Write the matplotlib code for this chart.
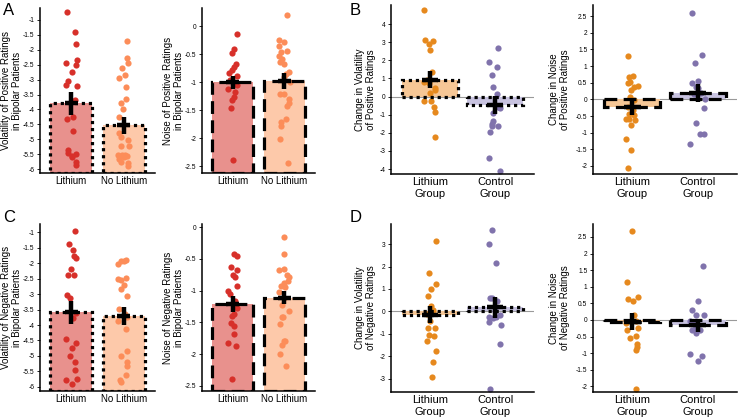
import matplotlib
matplotlib.use("Agg")
import matplotlib.pyplot as plt
import numpy as np

plt.rcParams["font.family"] = ["Liberation Sans", "DejaVu Sans"]

# ---- data (y value, x jitter) ----
a_vol_li = [(-0.74, -0.08), (-1.40, 0.06), (-1.79, 0.08), (-2.45, -0.10), (-2.35, 0.10), (-2.52, 0.08),
            (-2.73, 0.01), (-3.04, -0.07), (-3.18, -0.10), (-3.23, 0.10), (-3.68, 0.06), (-4.26, 0.04),
            (-4.32, -0.08), (-4.73, 0.03), (-5.37, -0.06), (-5.46, -0.06), (-5.55, 0.01), (-5.49, 0.08),
            (-5.60, 0.01), (-5.77, 0.08), (-5.87, 0.09)]
a_vol_noli = [(-1.70, 0.06), (-2.29, 0.06), (-2.45, 0.08), (-2.62, -0.03), (-2.83, 0.03), (-2.93, -0.08),
              (-3.26, 0.04), (-3.65, 0.05), (-3.79, -0.06), (-3.99, -0.02), (-4.26, -0.08), (-4.79, -0.08),
              (-4.94, -0.05), (-5.01, 0.09), (-5.24, -0.06), (-5.24, 0.10), (-5.52, -0.04), (-5.54, 0.03),
              (-5.59, 0.00), (-5.53, -0.10), (-5.55, 0.06), (-5.77, -0.06), (-5.65, -0.08), (-5.88, 0.08),
              (-5.79, 0.09)]
a_noise_li = [(-0.14, 0.09), (-0.41, 0.03), (-0.48, -0.01), (-0.68, 0.06), (-0.73, 0.03), (-0.78, -0.02),
              (-0.83, -0.08), (-0.89, 0.09), (-0.96, -0.06), (-1.00, 0.03), (-1.05, 0.08), (-1.11, -0.10),
              (-1.18, 0.04), (-1.27, 0.03), (-1.32, -0.01), (-1.46, -0.04), (-2.38, 0.00)]
a_noise_noli = [(0.20, 0.05), (-0.25, -0.10), (-0.27, -0.01), (-0.35, -0.10), (-0.46, -0.06), (-0.52, -0.10),
                (-0.44, 0.05), (-0.58, -0.05), (-0.64, -0.08), (-0.67, -0.01), (-0.81, 0.10), (-0.85, 0.03),
                (-0.91, 0.00), (-1.00, 0.11), (-1.20, -0.08), (-1.21, -0.01), (-1.30, 0.10), (-1.37, 0.10),
                (-1.43, 0.05), (-1.65, 0.03), (-1.71, -0.06), (-1.78, -0.06), (-2.02, -0.08), (-2.44, 0.08)]
b_vol_li = [(4.75, -0.09), (3.14, -0.08), (3.07, 0.04), (2.92, -0.02), (2.59, 0.00), (1.36, 0.03),
            (0.81, -0.09), (0.76, -0.01), (0.94, -0.04), (0.45, 0.07), (0.36, 0.07), (0.21, 0.00),
            (-0.23, -0.09), (-0.23, 0.02), (-0.56, 0.06), (-0.84, 0.07), (-2.21, 0.08)]
b_vol_ctrl = [(2.68, 0.05), (1.88, -0.10), (1.64, 0.03), (1.18, -0.05), (0.54, -0.03), (0.12, 0.03),
              (-0.56, 0.05), (-0.65, 0.08), (-0.93, -0.03), (-1.35, -0.03), (-1.53, -0.05), (-1.62, -0.04),
              (-1.62, 0.04), (-1.93, -0.07), (-3.40, -0.09), (-4.10, 0.07)]
b_noise_li = [(1.30, -0.07), (0.70, 0.01), (0.66, -0.05), (0.53, -0.03), (0.50, -0.07), (0.40, 0.09),
              (0.36, 0.03), (0.28, -0.02), (0.06, -0.04), (-0.02, 0.03), (-0.22, -0.07), (-0.33, 0.01),
              (-0.45, -0.05), (-0.48, 0.02), (-0.58, -0.05), (-0.61, 0.04), (-0.60, -0.09), (-0.78, -0.02),
              (-1.18, -0.10), (-1.53, -0.02), (-2.06, -0.07)]
b_noise_ctrl = [(2.58, -0.09), (1.33, 0.06), (1.08, -0.04), (0.55, 0.00), (0.50, -0.08), (0.38, -0.03),
                (0.16, -0.05), (0.00, 0.11), (-0.25, 0.09), (-0.71, -0.02), (-1.05, 0.04), (-1.03, 0.10),
                (-1.35, -0.12), (0.18, 0.05), (0.33, 0.01)]
c_vol_li = [(-0.95, 0.06), (-1.38, -0.05), (-1.57, 0.04), (-1.78, 0.05), (-1.83, 0.09), (-2.19, -0.01),
            (-2.40, -0.06), (-2.39, 0.05), (-3.04, -0.08), (-3.14, -0.03), (-3.61, 0.08), (-3.79, 0.03),
            (-4.45, -0.10), (-4.58, 0.09), (-4.75, 0.01), (-4.99, -0.03), (-5.20, 0.06), (-5.46, 0.06),
            (-5.73, 0.11), (-5.76, -0.10), (-5.92, 0.01)]
c_vol_noli = [(-2.02, -0.10), (-1.95, -0.06), (-1.91, 0.05), (-1.94, 0.01), (-2.53, -0.10), (-2.56, -0.05),
              (-2.48, 0.05), (-2.71, 0.00), (-2.83, -0.05), (-3.07, 0.07), (-3.48, -0.09), (-3.64, 0.02),
              (-3.73, 0.06), (-3.86, -0.10), (-4.14, 0.04), (-4.83, 0.07), (-4.99, -0.06), (-5.19, 0.06),
              (-5.33, 0.06), (-5.62, 0.04), (-5.76, -0.07), (-5.85, -0.05)]
c_noise_li = [(-0.43, 0.03), (-0.46, 0.09), (-0.62, -0.04), (-0.68, 0.09), (-0.75, 0.01), (-0.79, 0.04),
              (-0.92, 0.08), (-1.01, -0.10), (-1.05, -0.06), (-1.17, 0.05), (-1.28, 0.09), (-1.37, 0.02),
              (-1.40, -0.01), (-1.51, -0.03), (-1.56, 0.03), (-1.68, 0.02), (-1.83, -0.09), (-1.87, 0.06),
              (-2.39, -0.01)]
c_noise_noli = [(-0.15, -0.01), (-0.43, -0.01), (-0.66, 0.00), (-0.68, -0.10), (-0.75, 0.05), (-0.78, 0.10),
                (-0.84, 0.08), (-0.88, -0.01), (-0.92, -0.06), (-0.94, 0.02), (-1.02, -0.10), (-1.11, 0.00),
                (-1.22, -0.04), (-1.32, 0.10), (-1.41, -0.05), (-1.41, -0.02), (-1.52, -0.09), (-1.79, -0.01),
                (-1.80, 0.02), (-1.86, -0.04), (-2.00, -0.08), (-2.19, 0.04)]
d_vol_li = [(3.12, 0.09), (1.70, -0.01), (1.21, 0.10), (1.00, 0.01), (0.69, -0.03), (0.24, 0.01),
            (0.06, 0.05), (-0.13, -0.04), (-0.43, 0.00), (-0.73, -0.03), (-0.73, 0.08), (-1.06, -0.01),
            (-1.10, 0.06), (-1.31, -0.04), (-1.78, 0.09), (-2.25, 0.04), (-2.93, 0.03)]
d_vol_ctrl = [(3.64, -0.04), (3.01, -0.10), (2.15, 0.01), (0.61, -0.08), (0.58, -0.04), (0.46, 0.03),
              (-0.24, -0.10), (-0.31, -0.03), (-0.24, 0.02), (-0.16, 0.08), (-0.49, -0.09), (-0.61, 0.09),
              (-1.46, 0.08), (-3.48, -0.07), (0.00, 0.00)]
d_noise_li = [(2.67, -0.01), (1.13, -0.08), (0.63, -0.06), (0.56, 0.01), (0.70, 0.08), (0.16, 0.03),
              (-0.09, -0.10), (-0.04, 0.05), (-0.24, 0.08), (-0.29, -0.08), (-0.47, 0.06), (-0.54, -0.03),
              (-0.72, 0.07), (-0.82, 0.07), (-0.89, 0.05), (-2.07, 0.06)]
d_noise_ctrl = [(1.61, 0.08), (0.56, 0.00), (0.29, -0.09), (0.14, -0.02), (0.14, 0.09), (-0.09, -0.07),
                (-0.04, -0.12), (-0.27, -0.04), (-0.29, 0.04), (-0.29, -0.09), (-0.39, -0.02), (-1.04, -0.12),
                (-1.10, 0.06), (-1.24, 0.01)]

# group means and standard errors
means = {"A1": [-3.79, -4.53], "A2": [-1.00, -0.98], "B1": [0.93, -0.48], "B2": [-0.22, 0.18],
         "C1": [-3.59, -3.70], "C2": [-1.21, -1.11], "D1": [-0.15, 0.18], "D2": [-0.05, -0.16]}
ses = {"A1": [0.39, 0.29], "A2": [0.11, 0.14], "B1": [0.48, 0.50], "B2": [0.25, 0.27],
       "C1": [0.38, 0.29], "C2": [0.13, 0.10], "D1": [0.38, 0.47], "D2": [0.25, 0.20]}

bipolar_labels = ["Lithium", "No Lithium"]
group_labels = ["Lithium\nGroup", "Control\nGroup"]

red_pt, orange_pt = "#D7302A", "#FC8D59"
red_bar, orange_bar = "#E8918D", "#FDC9AA"
li_pt, ctrl_pt = "#E6891E", "#8073AC"
li_bar, ctrl_bar = "#F6C796", "#C8C3E0"

W, H = 739, 418
fig = plt.figure(figsize=(W / 100, H / 100), dpi=100)


def make_axes(l, r, t, b):
    return fig.add_axes([l / W, 1 - b / H, (r - l) / W, (b - t) / H])


def panel(ax, key, pts, bar_cols, pt_cols, ylim, ticks, xlabels, ylabel, ls, is_change, label_x):
    ax.set_xlim(-0.6, 1.6)
    ax.set_ylim(*ylim)
    if is_change:
        ax.axhline(0, color="#9a9a9a", lw=0.8, zorder=0.5)
        base = 0
        width = 0.85
        xfs = 8
    else:
        base = ylim[0]
        width = 0.8
        xfs = 7
    for i in range(2):
        m = means[key][i]
        ax.bar(i, m - base, bottom=base, width=width, color=bar_cols[i], edgecolor="none", zorder=1)
        ax.bar(i, m - base, bottom=base, width=width, facecolor="none", edgecolor="black",
               linewidth=2.3, linestyle=ls, zorder=2.5)
        ys = np.array([p[0] for p in pts[i]])
        xs = i + np.array([p[1] for p in pts[i]])
        ax.scatter(xs, ys, s=20, color=pt_cols[i], linewidths=0, zorder=2)
        s = ses[key][i]
        ax.vlines(i, m - s, m + s, color="black", lw=3.2, zorder=3)
        ax.hlines(m, i - 0.13, i + 0.13, color="black", lw=3.2, zorder=3)
    ax.set_yticks(ticks)
    ax.set_yticklabels([f"{t:g}" for t in ticks], fontsize=4.8)
    ax.set_xticks([0, 1])
    ax.set_xticklabels(xlabels, fontsize=xfs, linespacing=1.3)
    ax.tick_params(axis="y", length=2, width=0.6, pad=2)
    ax.tick_params(axis="x", length=0, pad=2)
    ax.set_ylabel(ylabel, fontsize=7, linespacing=1.1)
    # label_x is the right edge of the rotated label, in pixels left of the axis line
    bbox = ax.get_position()
    ax.yaxis.set_label_coords(-label_x / (bbox.width * W), 0.5)
    for sp in ["top", "right"]:
        ax.spines[sp].set_visible(False)
    for sp in ["left", "bottom"]:
        ax.spines[sp].set_linewidth(1.1)


dot = (0, (1, 1.2))
dash = (0, (4, 2))

ax = make_axes(40, 155, 8, 173)
panel(ax, "A1", [a_vol_li, a_vol_noli], [red_bar, orange_bar], [red_pt, orange_pt], (-6.13, -0.6),
      np.arange(-6, -0.9, 0.5), bipolar_labels, "Volatility of Positive Ratings\nin Bipolar Patients", dot, False, 18)
ax = make_axes(202, 315, 8, 173)
panel(ax, "A2", [a_noise_li, a_noise_noli], [red_bar, orange_bar], [red_pt, orange_pt], (-2.62, 0.33),
      np.arange(-2.5, 0.1, 0.5), bipolar_labels, "Noise of Positive Ratings\nin Bipolar Patients", dash, False, 18)
ax = make_axes(391, 534, 5, 174)
panel(ax, "B1", [b_vol_li, b_vol_ctrl], [li_bar, ctrl_bar], [li_pt, ctrl_pt], (-4.27, 5.05),
      np.arange(-4, 5, 1), group_labels, "Change in Volatility\nof Positive Ratings", dot, True, 15)
ax = make_axes(593, 737, 5, 174)
panel(ax, "B2", [b_noise_li, b_noise_ctrl], [li_bar, ctrl_bar], [li_pt, ctrl_pt], (-2.24, 2.83),
      np.arange(-2, 2.6, 0.5), group_labels, "Change in Noise\nof Positive Ratings", dash, True, 23)
ax = make_axes(40, 155, 224, 391)
panel(ax, "C1", [c_vol_li, c_vol_noli], [red_bar, orange_bar], [red_pt, orange_pt], (-6.13, -0.74),
      np.arange(-6, -0.9, 0.5), bipolar_labels, "Volatility of Negative Ratings\nin Bipolar Patients", dot, False, 18)
ax = make_axes(202, 315, 224, 391)
panel(ax, "C2", [c_noise_li, c_noise_noli], [red_bar, orange_bar], [red_pt, orange_pt], (-2.58, 0.05),
      np.arange(-2.5, 0.1, 0.5), bipolar_labels, "Noise of Negative Ratings\nin Bipolar Patients", dash, False, 18)
ax = make_axes(391, 534, 224, 392)
panel(ax, "D1", [d_vol_li, d_vol_ctrl], [li_bar, ctrl_bar], [li_pt, ctrl_pt], (-3.6, 3.9),
      np.arange(-3, 3.1, 1), group_labels, "Change in Volatility\nof Negative Ratings", dot, True, 15)
ax = make_axes(593, 737, 224, 392)
panel(ax, "D2", [d_noise_li, d_noise_ctrl], [li_bar, ctrl_bar], [li_pt, ctrl_pt], (-2.17, 2.89),
      np.arange(-2, 2.6, 0.5), group_labels, "Change in Noise\nof Negative Ratings", dash, True, 23)

for letter, x, y in [("A", 3, 3), ("B", 350, 3), ("C", 3, 210), ("D", 350, 210)]:
    fig.text(x / W, 1 - y / H, letter, fontsize=12, va="top", ha="left")

fig.savefig("out.png", dpi=100)
